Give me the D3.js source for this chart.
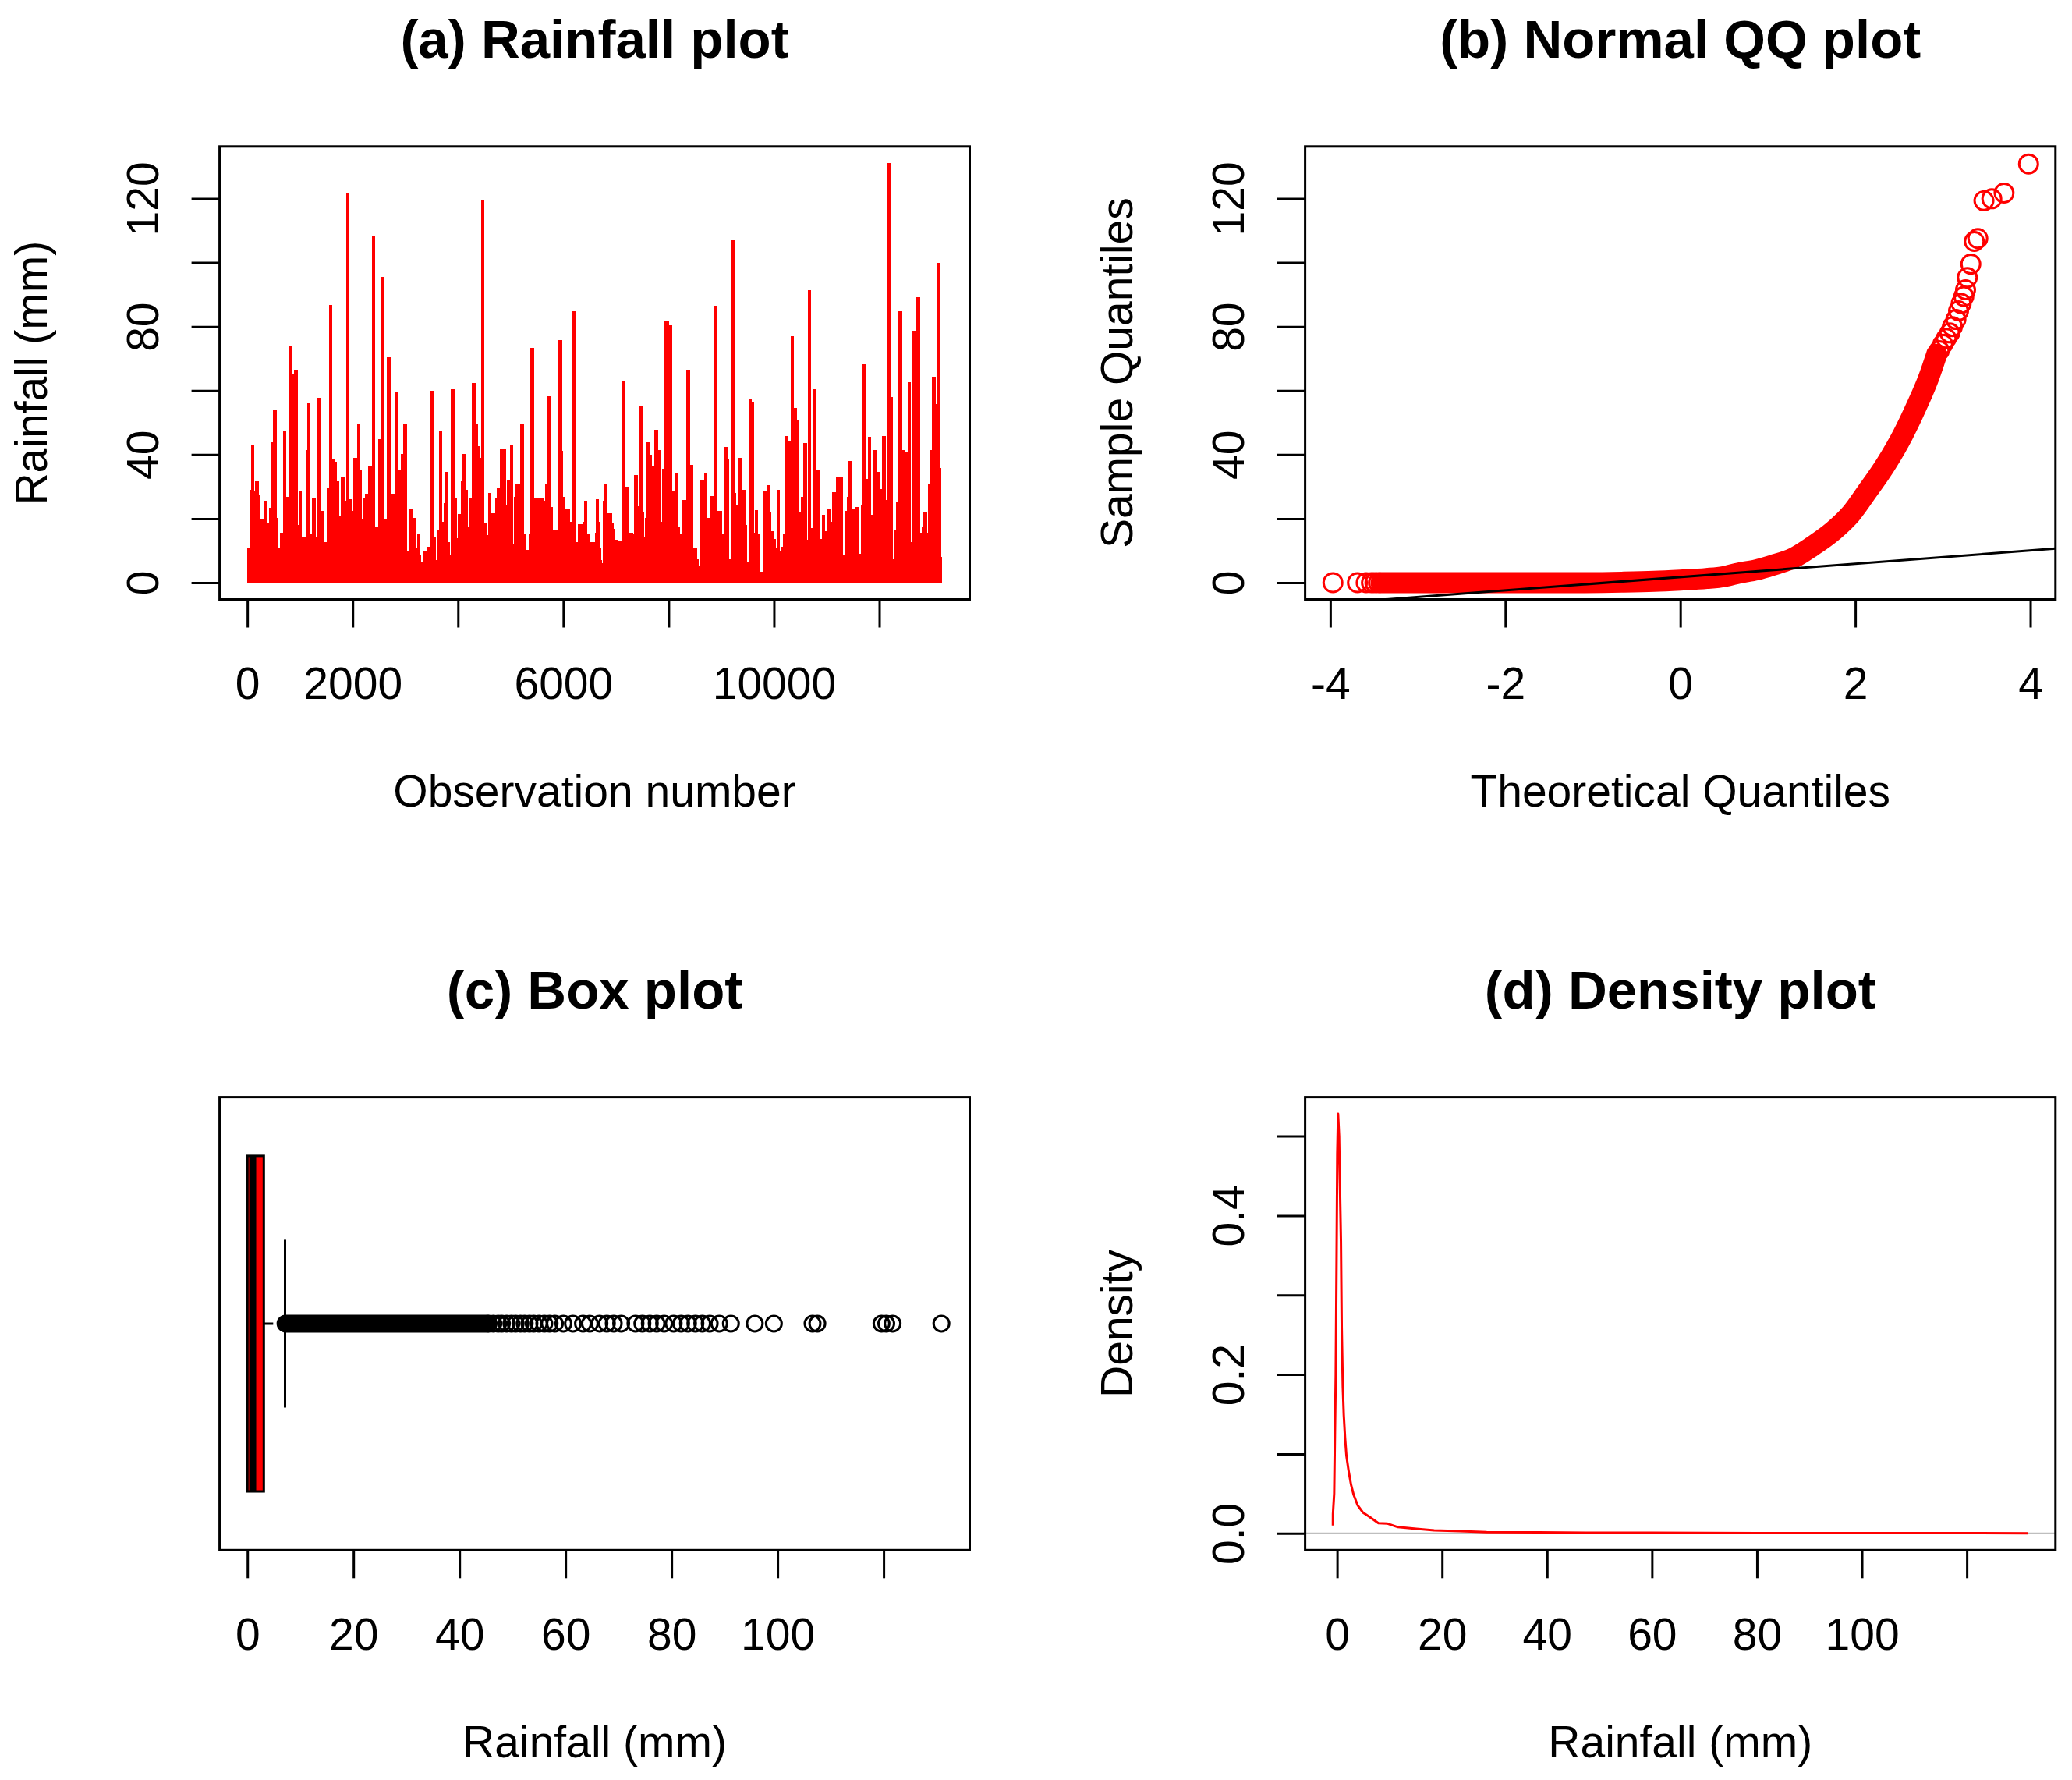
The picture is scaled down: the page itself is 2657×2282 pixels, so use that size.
<!DOCTYPE html>
<html><head><meta charset="utf-8">
<script src="https://cdn.jsdelivr.net/npm/d3@7"></script>
<style>
body{margin:0;background:#fff}
svg{display:block}
text{font-family:"Liberation Sans",Arial,Helvetica,sans-serif;fill:#000}
</style>
</head><body>
<svg id="chart" width="2657" height="2282"></svg>
<script>
// ---------------- DATA ----------------
// (a) Rainfall series: envelope (end observation of each run, max rainfall in run)
const rainSegEnd = [47,56,76,125,140,204,243,293,312,362,401,416,460,490,554,588,618,677,731,780,835,859,884,953,973,1032,1125,1140,1189,1224,1298,1328,1382,1446,1505,1549,1604,1662,1697,1741,1781,1840,1874,1933,1978,1997,2012,2086,2140,2170,2190,2239,2288,2352,2367,2421,2480,2539,2599,2648,2717,2741,2796,2850,2909,2953,3022,3057,3076,3126,3185,3219,3273,3298,3343,3407,3456,3530,3565,3604,3634,3693,3732,3761,3806,3840,3870,3929,3949,3978,4003,4062,4082,4136,4180,4210,4269,4328,4372,4407,4436,4490,4545,4569,4619,4712,4732,4786,4801,4900,4924,4984,5038,5058,5097,5185,5245,5294,5343,5377,5436,5609,5648,5688,5761,5791,5890,5909,5968,5993,6028,6117,6166,6230,6269,6383,6402,6451,6501,6574,
6604,6623,6673,6692,6712,6732,6751,6781,6835,6914,6948,6978,7017,7052,7106,7121,7175,7234,7313,7343,7402,7431,7490,7525,7545,7569,7623,7678,7732,7786,7840,7875,7924,7993,8052,8072,8111,8170,8200,8259,8338,8407,8466,8535,8565,8604,8673,8732,8776,8801,8865,8924,9008,9062,9116,9146,9175,9190,9249,9279,9308,9382,9456,9486,9515,9575,9614,9639,9688,9737,9781,9806,9865,9914,9939,9983,10023,10052,10102,10136,10171,10200,10264,10318,10373,10432,10476,10511,10555,10624,10639,10698,10747,10801,10860,10910,10959,11018,11077,11102,11171,11245,11304,11334,11383,11417,11481,11540,11600,11649,11688,11747,11782,11836,11880,11954,12013,12048,12117,12146,12220,12255,12284,12314,12348,12427,12471,12501,12536,12595,12620,12683,12762,12807,12831,12900,12920,12974,13004,13058,13093,13152,13166,13190];
const rainSegMax = [11.0,9.9,29.0,43.0,28.8,31.6,27.5,19.8,14.4,25.7,18.4,18.0,23.4,43.8,53.9,20.1,10.8,15.5,47.6,26.8,74.1,50.5,65.3,66.4,18.0,28.7,14.2,41.5,56.0,15.1,26.6,14.2,57.8,22.3,12.6,29.7,86.7,38.8,37.7,31.6,20.7,33.2,25.7,121.8,26.1,15.7,22.3,39.1,49.4,35.2,19.8,26.4,27.7,36.3,24.6,108.2,17.5,44.8,95.6,19.8,70.3,6.6,27.7,59.6,35.0,40.1,49.5,9.9,17.4,23.1,20.1,10.8,15.0,8.8,6.5,10.1,11.2,60.0,14.2,7.1,16.4,47.6,19.1,24.8,34.7,12.7,8.8,60.3,45.3,26.3,13.9,21.4,31.7,40.1,29.0,17.3,26.6,62.3,49.8,42.6,39.0,119.5,18.7,14.8,27.9,21.6,26.3,29.5,22.3,41.7,24.1,32.0,42.9,12.1,26.8,30.7,49.4,15.3,10.3,15.3,73.4,26.4,25.7,30.7,58.2,23.7,16.5,13.0,75.7,41.2,26.9,23.0,18.9,84.7,12.7,18.3,18.9,25.5,15.1,12.6,
12.6,15.6,26.1,18.9,11.0,7.1,6.1,25.7,30.8,21.8,18.4,16.8,13.5,10.3,12.8,9.0,63.2,30.0,15.7,15.3,33.5,23.9,55.2,21.9,14.4,20.1,43.8,40.0,36.5,47.8,41.5,18.9,35.6,81.6,80.4,18.9,28.7,34.0,17.3,15.0,25.9,66.4,36.7,11.0,7.3,5.3,31.8,34.4,20.3,10.8,27.0,86.6,22.5,15.0,42.4,38.8,7.3,61.7,106.9,27.9,24.3,39.1,29.1,18.0,6.4,57.3,56.4,15.7,22.7,15.3,3.5,20.3,28.8,30.4,22.1,16.2,13.7,10.9,29.0,9.9,11.2,15.3,45.8,44.0,76.9,54.5,50.7,22.1,26.9,43.6,13.5,91.4,17.1,60.5,35.4,13.7,21.2,16.0,23.1,18.9,28.2,32.9,33.1,8.8,22.3,26.9,37.9,23.2,23.6,9.0,24.3,68.2,32.5,45.6,21.2,41.3,34.7,29.3,45.8,25.9,131.0,58.1,7.4,16.4,25.2,84.7,41.5,35.2,40.9,62.5,12.6,78.6,89.2,15.6,17.4,22.2,15.7,30.8,41.3,64.3,55.8,99.8,35.9,8.0];
const nObs = 13190;
const rainMax = 131.0;

// (b) Normal QQ: dense band of sample quantiles vs theoretical quantiles
const qqBandTheo   = [-3.42,-1.2,-0.67,-0.3,0.0,0.3,0.5,0.67,0.87,1.05,1.3,1.5,1.75,1.95,2.12,2.35,2.54,2.70,2.84,2.93];
const qqBandSample = [0,0,0.15,0.4,0.8,1.3,1.9,3.0,4.0,5.4,7.8,11.2,16.2,21.5,27.9,37.0,46.0,55.1,64.1,71.3];
// individually visible points (both tails)
const qqPointTheo   = [-3.97,-3.69,-3.59,-3.53,-3.49,-3.45,2.96,3.00,3.04,3.08,3.11,3.15,3.18,3.21,3.24,3.26,3.28,3.32,3.36,3.40,3.47,3.56,3.70,3.98];
const qqPointSample = [0,0,0,0,0,0,72.5,74.5,76.3,78.0,80.0,82.2,84.9,87.2,89.4,91.5,95.3,99.5,106.6,107.5,119.3,119.9,121.7,130.8];
const qqLineQuartiles = [0.35, 3.15];   // sample 1st and 3rd quartile used by qqline
const qqLineProbs = [-0.6745, 0.6745];  // theoretical quartiles

// (c) Box plot: five-number summary and outliers
const boxStats = [0, 0, 1.0, 3.1, 7.1];   // lower whisker, Q1, median, Q3, upper whisker
const outlierDense = [7.2, 45.2];         // range packed solid with outlier circles
const outliers = [45.5,46.4,47.3,48.0,48.9,49.8,50.6,51.5,52.3,53.2,54.0,55.0,56.0,57.0,58.0,59.6,61.4,63.3,64.6,66.4,67.8,69.1,70.5,73.2,74.5,75.9,77.2,78.6,80.4,81.8,83.1,84.5,85.8,87.2,89.0,91.2,95.7,99.3,106.6,107.5,119.6,120.5,121.7,130.9];

// (d) Density estimate
const densX = [-0.80,-0.79,-0.56,-0.41,-0.26,-0.11,0.03,0.18,0.38,0.53,0.73,0.88,1.08,1.27,1.52,1.77,2.17,2.66,3.16,3.90,4.90,6.14,7.87,9.61,11.6,15.1,18.5,23.5,28.5,38.4,50,60,70,80,90,100,110,120,131.6];
const densY = [0.0099,0.0246,0.050,0.128,0.200,0.339,0.478,0.528,0.500,0.441,0.368,0.259,0.185,0.149,0.120,0.098,0.0795,0.0612,0.0484,0.0356,0.0264,0.0210,0.0129,0.0122,0.0078,0.0056,0.0037,0.0027,0.0016,0.0012,0.0008,0.0007,0.0005,0.0004,0.0004,0.0003,0.0002,0.0003,0.0001];

// ticks and labels
const aXTicks = [0,2000,4000,6000,8000,10000,12000];
const aXLabels = ["0","2000","","6000","","10000",""];
const rainYTicks = [0,20,40,60,80,100,120];
const rainYLabels = ["0","","40","","80","","120"];
const bXTicks = [-4,-2,0,2,4];
const bXLabels = ["-4","-2","0","2","4"];
const mmTicks = [0,20,40,60,80,100,120];
const mmLabels = ["0","20","40","60","80","100",""];
const dYTicks = [0,0.1,0.2,0.3,0.4,0.5];
const dYLabels = ["0.0","","0.2","","0.4",""];

const titles = ["(a) Rainfall plot","(b) Normal QQ plot","(c) Box plot","(d) Density plot"];
const xTitles = ["Observation number","Theoretical Quantiles","Rainfall (mm)","Rainfall (mm)"];
const yTitles = ["Rainfall (mm)","Sample Quantiles","","Density"];

// ---------------- LAYOUT ----------------
const svg = d3.select("#chart");
const AX = 57, TT = 69, LW = 3, TICK = 36;
const colL = [281.6, 1243.5], colR = [1673.6, 2635.8];
const rowT = [187.8, 768.5], rowB = [1406.6, 1987.3];
const boxes = [
  {x:colL, y:rowT}, {x:colR, y:rowT}, {x:colL, y:rowB}, {x:colR, y:rowB}
];
const ext = (lo, hi) => { const d = (hi - lo) * 0.04; return [lo - d, hi + d]; };

// scales
const xA = d3.scaleLinear().domain(ext(1, nObs)).range(colL);
const yRain = d3.scaleLinear().domain(ext(0, rainMax)).range([rowT[1], rowT[0]]);
const xB = d3.scaleLinear().domain(ext(-3.97, 3.97)).range(colR);
const xC = d3.scaleLinear().domain(ext(0, rainMax)).range(colL);
const yC = d3.scaleLinear().domain([0.46, 1.54]).range([rowB[1], rowB[0]]);
const xD = d3.scaleLinear().domain(ext(d3.min(densX), d3.max(densX))).range(colR);
const yD = d3.scaleLinear().domain(ext(0, d3.max(densY))).range([rowB[1], rowB[0]]);

function xAxis(scale, ticks, labels, yPos){
  const g = svg.append("g").attr("transform", `translate(0,${yPos})`)
    .call(d3.axisBottom(scale).tickValues(ticks).tickSize(TICK).tickSizeOuter(0)
      .tickFormat((d,i)=>labels[i]));
  g.select(".domain").remove();
  g.selectAll(".tick line").attr("stroke","#000").attr("stroke-width",LW);
  g.selectAll(".tick text").attr("y",127.5).attr("dy",0)
    .attr("font-size",AX).attr("font-family",'"Liberation Sans",Arial,sans-serif').attr("fill","#000");
}
function yAxis(scale, ticks, labels, xPos){
  const g = svg.append("g").attr("transform", `translate(${xPos},0)`)
    .call(d3.axisLeft(scale).tickValues(ticks).tickSize(TICK).tickSizeOuter(0)
      .tickFormat((d,i)=>labels[i]));
  g.select(".domain").remove();
  g.selectAll(".tick line").attr("stroke","#000").attr("stroke-width",LW);
  g.selectAll(".tick text").attr("x",0).attr("y",-79).attr("dy",0)
    .attr("transform","rotate(-90)").attr("text-anchor","middle")
    .attr("font-size",AX).attr("font-family",'"Liberation Sans",Arial,sans-serif').attr("fill","#000");
}

// ---------------- (a) ----------------
const segs = rainSegEnd.map((e,i)=>({s: i===0 ? 1 : rainSegEnd[i-1], e:e, v:rainSegMax[i]}));
svg.append("g").selectAll("rect").data(segs).join("rect")
  .attr("x", d=>xA(d.s)).attr("width", d=>Math.max(0.8, xA(d.e)-xA(d.s)+0.6))
  .attr("y", d=>yRain(d.v)).attr("height", d=>yRain(0)-yRain(d.v))
  .attr("fill","#ff0000").attr("shape-rendering","crispEdges");
xAxis(xA, aXTicks, aXLabels, rowT[1]);
yAxis(yRain, rainYTicks, rainYLabels, colL[0]);

// ---------------- (b) ----------------
svg.append("clipPath").attr("id","clipB").append("rect")
  .attr("x",colR[0]).attr("y",rowT[0]).attr("width",colR[1]-colR[0]).attr("height",rowT[1]-rowT[0]);
const band = qqBandTheo.map((t,i)=>[t, qqBandSample[i]]);
svg.append("path").datum(band)
  .attr("d", d3.line().x(d=>xB(d[0])).y(d=>yRain(d[1])).curve(d3.curveMonotoneX))
  .attr("fill","none").attr("stroke","#ff0000").attr("stroke-width",27)
  .attr("stroke-linecap","round").attr("stroke-linejoin","round");
svg.append("g").selectAll("circle").data(qqPointTheo.map((t,i)=>[t,qqPointSample[i]])).join("circle")
  .attr("cx",d=>xB(d[0])).attr("cy",d=>yRain(d[1])).attr("r",12)
  .attr("fill","none").attr("stroke","#ff0000").attr("stroke-width",3);
const slope = (qqLineQuartiles[1]-qqLineQuartiles[0])/(qqLineProbs[1]-qqLineProbs[0]);
const icpt = qqLineQuartiles[0] - slope*qqLineProbs[0];
const xd = xB.domain();
svg.append("line").attr("clip-path","url(#clipB)")
  .attr("x1",xB(xd[0])).attr("y1",yRain(icpt+slope*xd[0]))
  .attr("x2",xB(xd[1])).attr("y2",yRain(icpt+slope*xd[1]))
  .attr("stroke","#000").attr("stroke-width",LW);
xAxis(xB, bXTicks, bXLabels, rowT[1]);
yAxis(yRain, rainYTicks, rainYLabels, colR[0]);

// ---------------- (c) ----------------
const [lw, q1, med, q3, uw] = boxStats;
const gC = svg.append("g");
gC.append("line").attr("x1",xC(q3)).attr("x2",xC(uw)).attr("y1",yC(1)).attr("y2",yC(1))
  .attr("stroke","#000").attr("stroke-width",LW).attr("stroke-dasharray","12,12");
gC.append("line").attr("x1",xC(uw)).attr("x2",xC(uw)).attr("y1",yC(0.8)).attr("y2",yC(1.2))
  .attr("stroke","#000").attr("stroke-width",LW);
gC.append("line").attr("x1",xC(lw)).attr("x2",xC(lw)).attr("y1",yC(0.8)).attr("y2",yC(1.2))
  .attr("stroke","#000").attr("stroke-width",LW);
gC.append("rect").attr("x",xC(q1)).attr("width",xC(q3)-xC(q1))
  .attr("y",yC(1.4)).attr("height",yC(0.6)-yC(1.4))
  .attr("fill","#ff0000").attr("stroke","#000").attr("stroke-width",LW);
gC.append("line").attr("x1",xC(med)).attr("x2",xC(med)).attr("y1",yC(1.4)).attr("y2",yC(0.6))
  .attr("stroke","#000").attr("stroke-width",9);
gC.append("line").attr("x1",xC(outlierDense[0])).attr("x2",xC(outlierDense[1]))
  .attr("y1",yC(1)).attr("y2",yC(1))
  .attr("stroke","#000").attr("stroke-width",23).attr("stroke-linecap","round");
gC.append("g").selectAll("circle").data(outliers).join("circle")
  .attr("cx",d=>xC(d)).attr("cy",yC(1)).attr("r",10)
  .attr("fill","none").attr("stroke","#000").attr("stroke-width",3);
xAxis(xC, mmTicks, mmLabels, rowB[1]);

// ---------------- (d) ----------------
svg.append("line").attr("x1",colR[0]).attr("x2",colR[1]).attr("y1",yD(0)).attr("y2",yD(0))
  .attr("stroke","#bebebe").attr("stroke-width",2);
svg.append("path").datum(densX.map((x,i)=>[x,densY[i]]))
  .attr("d", d3.line().x(d=>xD(d[0])).y(d=>yD(d[1])))
  .attr("fill","none").attr("stroke","#ff0000").attr("stroke-width",3).attr("stroke-linejoin","round");
xAxis(xD, mmTicks, mmLabels, rowB[1]);
yAxis(yD, dYTicks, dYLabels, colR[0]);

// ---------------- frames & titles ----------------
boxes.forEach((b,i)=>{
  svg.append("rect").attr("x",b.x[0]).attr("y",b.y[0])
    .attr("width",b.x[1]-b.x[0]).attr("height",b.y[1]-b.y[0])
    .attr("fill","none").attr("stroke","#000").attr("stroke-width",LW);
  const cx = (b.x[0]+b.x[1])/2, cy = (b.y[0]+b.y[1])/2;
  svg.append("text").attr("x",cx).attr("y",b.y[0]-114).attr("text-anchor","middle")
    .attr("font-size",TT).attr("font-weight","bold").text(titles[i]);
  svg.append("text").attr("x",cx).attr("y",b.y[1]+265.5).attr("text-anchor","middle")
    .attr("font-size",AX).text(xTitles[i]);
  if (yTitles[i]) {
    svg.append("text").attr("transform",`translate(${b.x[0]-221.6},${cy}) rotate(-90)`)
      .attr("text-anchor","middle").attr("font-size",AX).text(yTitles[i]);
  }
});
</script>
</body></html>
